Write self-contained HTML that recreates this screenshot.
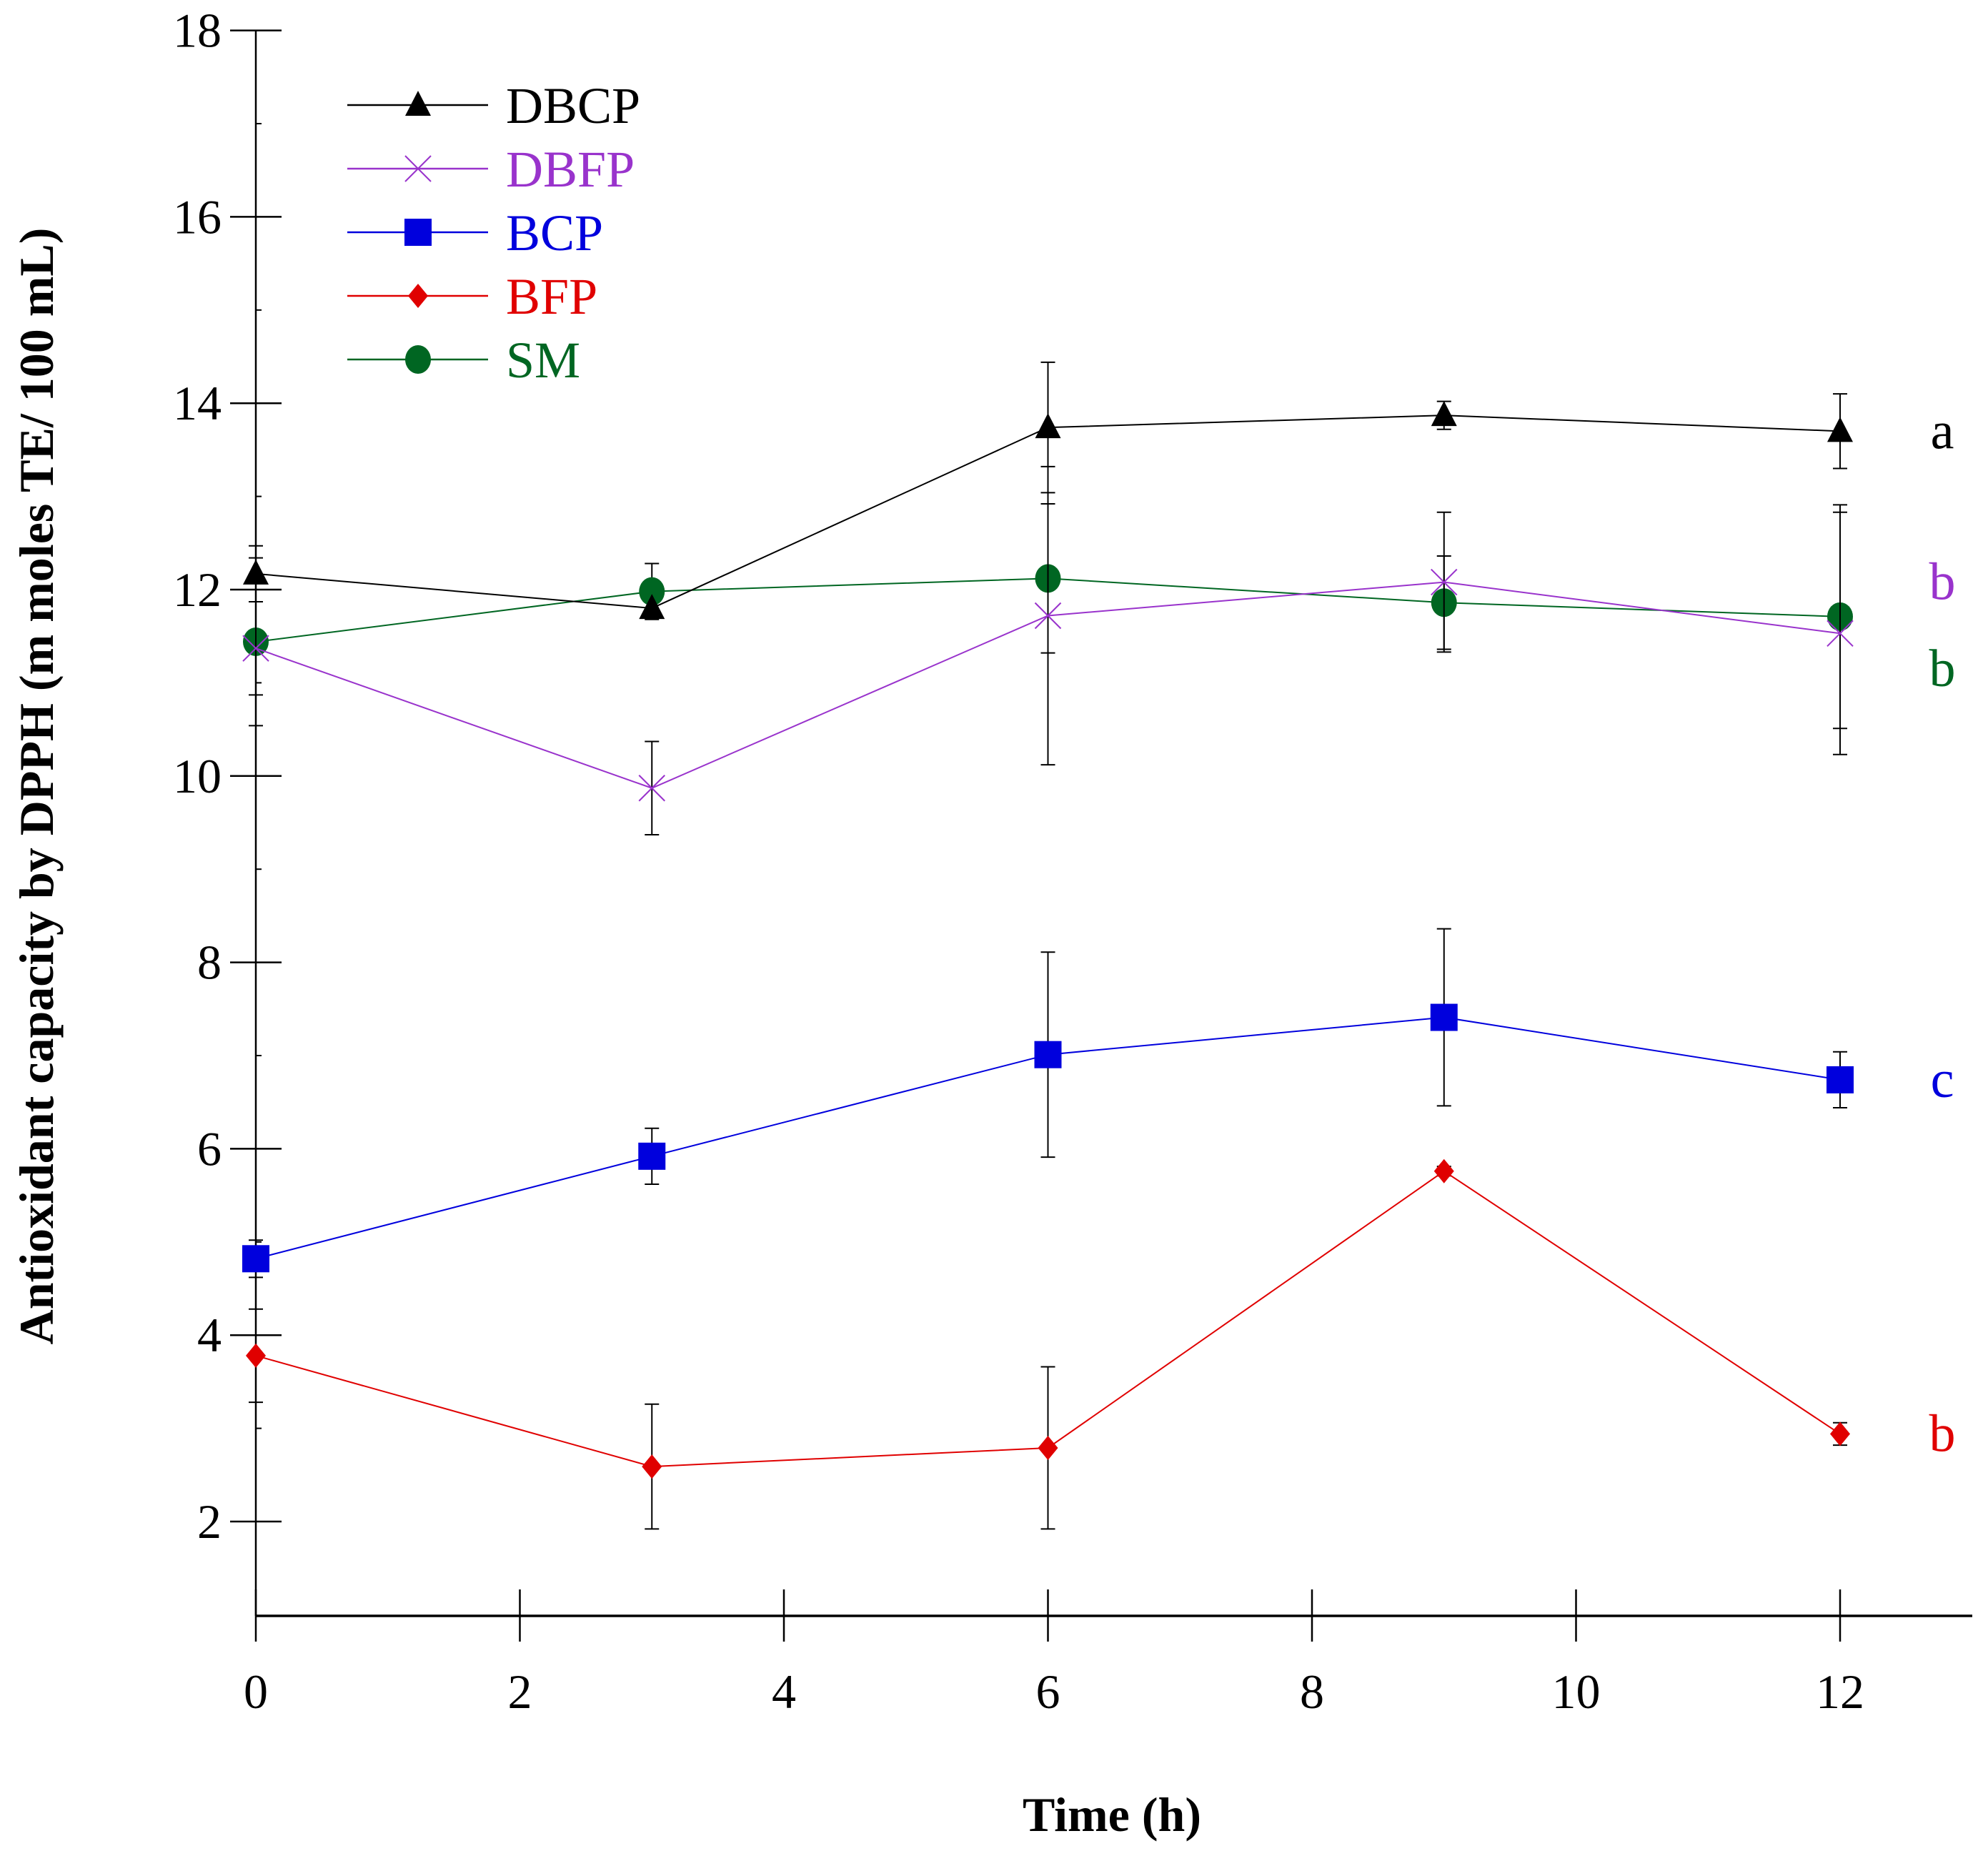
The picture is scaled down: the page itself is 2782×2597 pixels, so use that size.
<!DOCTYPE html>
<html><head><meta charset="utf-8"><style>
html,body{margin:0;padding:0;background:#fff}
svg{display:block;font-family:"Liberation Serif",serif}
</style></head><body>
<svg id="chart" width="2782" height="2597" viewBox="0 0 2782 2597"></svg>
<script>
const times=[0,3,6,9,12];
const xTicks=[0,2,4,6,8,10,12];
const yTicks=[2,4,6,8,10,12,14,16,18];
const dbcp=[12.17,11.8,13.74,13.87,13.7];
const dbcpErr=[0.3,0,0.7,0.15,0.4];
const dbfp=[11.37,9.87,11.72,12.08,11.53];
const dbfpErr=[0.5,0.5,1.6,0.75,1.3];
const bcp=[4.82,5.92,7.01,7.41,6.74];
const bcpErr=[0.2,0.3,1.1,0.95,0.3];
const bfp=[3.78,2.59,2.79,5.76,2.94];
const bfpErr=[0.5,0.67,0.87,0.05,0.12];
const sm=[11.44,11.98,12.12,11.86,11.71];
const smErr=[0.9,0.3,0.8,0.5,1.2];
const seriesNames=["DBCP","DBFP","BCP","BFP","SM"];
const letters=["a","b","c","b","b"];
const letterY=[13.7,12.08,6.74,2.94,11.15];

const NS="http://www.w3.org/2000/svg";
const svg=document.getElementById('chart');
const X=v=>358+(v/12)*(2575-358);
const Y=v=>2129-(v-2)*130.4;
function el(t,a,p){const e=document.createElementNS(NS,t);for(const k in a)e.setAttribute(k,a[k]);(p||svg).appendChild(e);return e;}

const ax=el('g',{});


el('line',{x1:X(0),y1:Y(18),x2:X(0),y2:2261,stroke:'#000','stroke-width':2.5},ax);
el('line',{x1:X(0),y1:2261,x2:2760,y2:2261,stroke:'#000','stroke-width':3.5},ax);
yTicks.forEach(t=>{
  el('line',{x1:X(0)-36,y1:Y(t),x2:X(0)+36,y2:Y(t),stroke:'#000','stroke-width':2.5},ax);
  const tx=el('text',{x:X(0)-48,y:Y(t)+23,'font-size':68,'text-anchor':'end'},ax);tx.textContent=t;
  
  
});
for(let t=3;t<18;t+=2){el('line',{x1:X(0),y1:Y(t),x2:X(0)+8,y2:Y(t),stroke:'#000','stroke-width':2},ax);}
xTicks.forEach(t=>{
  el('line',{x1:X(t),y1:2224,x2:X(t),y2:2297,stroke:'#000','stroke-width':2.5},ax);
  const tx=el('text',{x:X(t),y:2390,'font-size':68,'text-anchor':'middle'},ax);tx.textContent=t;
  
  
});
const xt=el('text',{x:1556,y:2562,'font-size':68,'font-weight':'bold','text-anchor':'middle'});
xt.textContent='Time (h)';


const yt=el('text',{x:0,y:0,'font-size':68,'font-weight':'bold','text-anchor':'middle',transform:'translate(74,1100) rotate(-90)'});
yt.textContent='Antioxidant capacity by DPPH (m moles TE/ 100 mL)';



function marker(kind,x,y,c,g){
  if(kind==='tri')el('polygon',{points:`${x},${y-20} ${x-18},${y+15} ${x+18},${y+15}`,fill:c},g);
  else if(kind==='x'){el('line',{x1:x-18,y1:y-18,x2:x+18,y2:y+18,stroke:c,'stroke-width':2},g);el('line',{x1:x-18,y1:y+18,x2:x+18,y2:y-18,stroke:c,'stroke-width':2},g);}
  else if(kind==='sq')el('rect',{x:x-19,y:y-19,width:38,height:38,fill:c},g);
  else if(kind==='dia')el('polygon',{points:`${x},${y-17} ${x+14},${y} ${x},${y+17} ${x-14},${y}`,fill:c},g);
  else el('ellipse',{cx:x,cy:y,rx:18,ry:20,fill:c},g);
}
const allVals=[dbcp,dbfp,bcp,bfp,sm];
const allErr=[dbcpErr,dbfpErr,bcpErr,bfpErr,smErr];
const colors=['#000','#9933cc','#0000dd','#e00000','#006622'];
const kinds=['tri','x','sq','dia','circ'];
const order=[3,2,4,1,0];
order.forEach(i=>{
  const g=el('g',{});
  
  
  const vals=allVals[i],errs=allErr[i];
  times.forEach((t,j)=>{
    if(errs[j]>0){
      el('line',{x1:X(t),y1:Y(vals[j]-errs[j]),x2:X(t),y2:Y(vals[j]+errs[j]),stroke:'#000','stroke-width':2},g);
      el('line',{x1:X(t)-10,y1:Y(vals[j]-errs[j]),x2:X(t)+10,y2:Y(vals[j]-errs[j]),stroke:'#000','stroke-width':2},g);
      el('line',{x1:X(t)-10,y1:Y(vals[j]+errs[j]),x2:X(t)+10,y2:Y(vals[j]+errs[j]),stroke:'#000','stroke-width':2},g);
    }
  });
  el('polyline',{points:times.map((t,j)=>X(t)+','+Y(vals[j])).join(' '),fill:'none',stroke:colors[i],'stroke-width':2},g);
  times.forEach((t,j)=>marker(kinds[i],X(t),Y(vals[j]),colors[i],g));
  const lt=el('text',{x:2718,y:Y(letterY[i])+24,'font-size':74,'text-anchor':'middle',fill:colors[i]},g);
  lt.textContent=letters[i];
  
  
});
const lg=el('g',{});


seriesNames.forEach((n,i)=>{
  const y=147+i*89;
  const e=el('g',{},lg);
  
  
  el('line',{x1:486,y1:y,x2:683,y2:y,stroke:colors[i],'stroke-width':2.5},e);
  marker(kinds[i],585,y,colors[i],e);
  const t=el('text',{x:708,y:y+25,'font-size':72,fill:colors[i]},e);t.textContent=n;
});
</script>
</body></html>
